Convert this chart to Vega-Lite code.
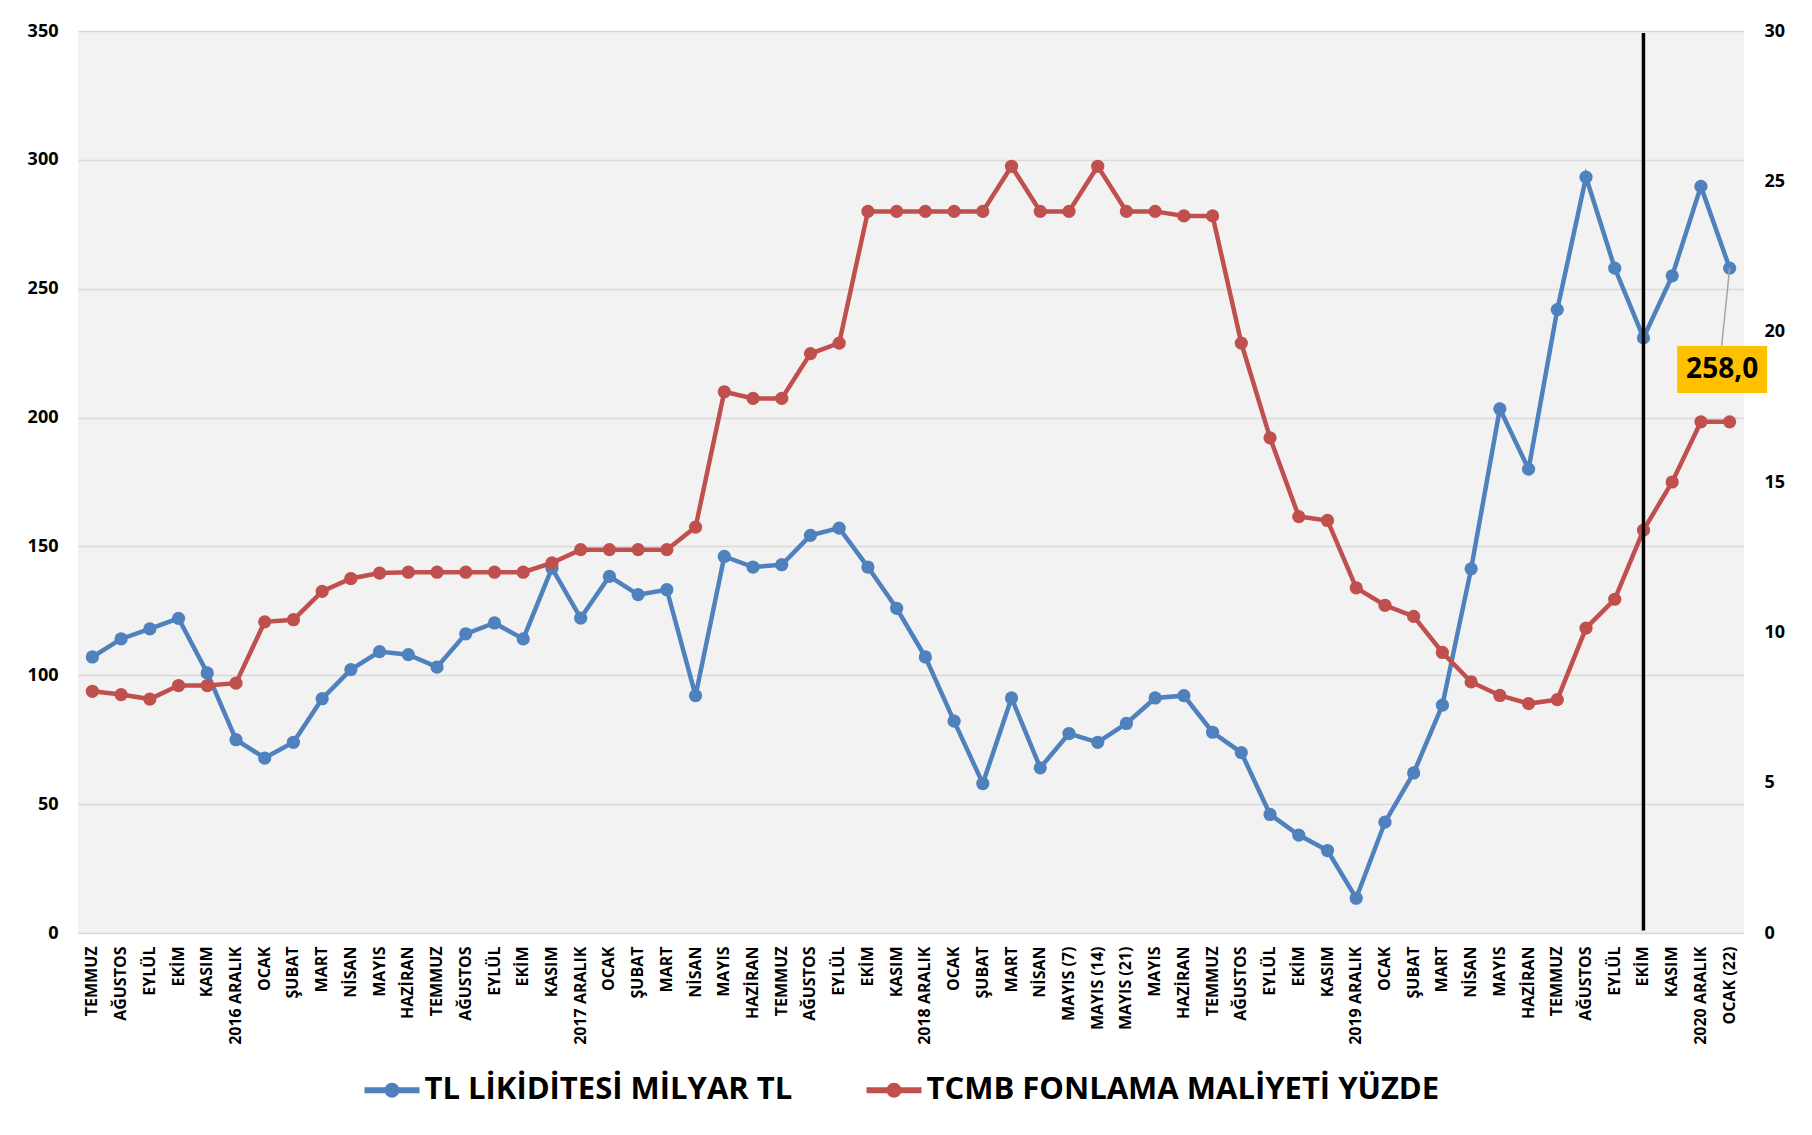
{
  "$schema": "https://vega.github.io/schema/vega-lite/v6.json",
  "width": 1666,
  "height": 902,
  "autosize": {"type": "none"},
  "padding": {"left": 78, "top": 31, "right": 68, "bottom": 202},
  "background": "white",
  "data": {"values": [
    {"key": "01|TEMMUZ", "tl": 107.1, "tcmb": 8.04},
    {"key": "02|AĞUSTOS", "tl": 114.1, "tcmb": 7.93},
    {"key": "03|EYLÜL", "tl": 118.0, "tcmb": 7.78},
    {"key": "04|EKİM", "tl": 122.1, "tcmb": 8.23},
    {"key": "05|KASIM", "tl": 100.9, "tcmb": 8.23},
    {"key": "06|2016 ARALIK", "tl": 75.0, "tcmb": 8.31},
    {"key": "07|OCAK", "tl": 67.9, "tcmb": 10.35},
    {"key": "08|ŞUBAT", "tl": 74.0, "tcmb": 10.42},
    {"key": "09|MART", "tl": 90.9, "tcmb": 11.36},
    {"key": "10|NİSAN", "tl": 102.2, "tcmb": 11.79},
    {"key": "11|MAYIS", "tl": 109.2, "tcmb": 11.97},
    {"key": "12|HAZİRAN", "tl": 108.0, "tcmb": 12.0},
    {"key": "13|TEMMUZ", "tl": 103.2, "tcmb": 12.0},
    {"key": "14|AĞUSTOS", "tl": 116.1, "tcmb": 12.0},
    {"key": "15|EYLÜL", "tl": 120.3, "tcmb": 12.0},
    {"key": "16|EKİM", "tl": 114.1, "tcmb": 12.0},
    {"key": "17|KASIM", "tl": 141.6, "tcmb": 12.31},
    {"key": "18|2017 ARALIK", "tl": 122.2, "tcmb": 12.75},
    {"key": "19|OCAK", "tl": 138.4, "tcmb": 12.75},
    {"key": "20|ŞUBAT", "tl": 131.3, "tcmb": 12.75},
    {"key": "21|MART", "tl": 133.2, "tcmb": 12.75},
    {"key": "22|NİSAN", "tl": 92.1, "tcmb": 13.5},
    {"key": "23|MAYIS", "tl": 146.1, "tcmb": 18.0},
    {"key": "24|HAZİRAN", "tl": 142.0, "tcmb": 17.78},
    {"key": "25|TEMMUZ", "tl": 142.9, "tcmb": 17.78},
    {"key": "26|AĞUSTOS", "tl": 154.3, "tcmb": 19.27},
    {"key": "27|EYLÜL", "tl": 157.1, "tcmb": 19.62},
    {"key": "28|EKİM", "tl": 142.0, "tcmb": 24.0},
    {"key": "29|KASIM", "tl": 126.0, "tcmb": 24.0},
    {"key": "30|2018 ARALIK", "tl": 107.1, "tcmb": 24.0},
    {"key": "31|OCAK", "tl": 82.2, "tcmb": 24.0},
    {"key": "32|ŞUBAT", "tl": 58.0, "tcmb": 24.0},
    {"key": "33|MART", "tl": 91.2, "tcmb": 25.5},
    {"key": "34|NİSAN", "tl": 64.1, "tcmb": 24.0},
    {"key": "35|MAYIS (7)", "tl": 77.4, "tcmb": 24.0},
    {"key": "36|MAYIS (14)", "tl": 74.0, "tcmb": 25.5},
    {"key": "37|MAYIS (21)", "tl": 81.3, "tcmb": 24.0},
    {"key": "38|MAYIS", "tl": 91.2, "tcmb": 24.0},
    {"key": "39|HAZİRAN", "tl": 92.1, "tcmb": 23.85},
    {"key": "40|TEMMUZ", "tl": 77.9, "tcmb": 23.85},
    {"key": "41|AĞUSTOS", "tl": 70.0, "tcmb": 19.62},
    {"key": "42|EYLÜL", "tl": 46.0, "tcmb": 16.47},
    {"key": "43|EKİM", "tl": 38.0, "tcmb": 13.85},
    {"key": "44|KASIM", "tl": 32.0, "tcmb": 13.72},
    {"key": "45|2019 ARALIK", "tl": 13.5, "tcmb": 11.48},
    {"key": "46|OCAK", "tl": 43.0, "tcmb": 10.9},
    {"key": "47|ŞUBAT", "tl": 62.1, "tcmb": 10.53},
    {"key": "48|MART", "tl": 88.4, "tcmb": 9.33},
    {"key": "49|NİSAN", "tl": 141.3, "tcmb": 8.35},
    {"key": "50|MAYIS", "tl": 203.4, "tcmb": 7.9},
    {"key": "51|HAZİRAN", "tl": 180.0, "tcmb": 7.63},
    {"key": "52|TEMMUZ", "tl": 241.9, "tcmb": 7.76},
    {"key": "53|AĞUSTOS", "tl": 293.3, "tcmb": 10.14},
    {"key": "54|EYLÜL", "tl": 258.0, "tcmb": 11.1},
    {"key": "55|EKİM", "tl": 230.9, "tcmb": 13.4},
    {"key": "56|KASIM", "tl": 255.0, "tcmb": 15.0},
    {"key": "57|2020 ARALIK", "tl": 289.7, "tcmb": 17.0},
    {"key": "58|OCAK (22)", "tl": 258.0, "tcmb": 17.0}
  ]},
  "config": {
    "view": {"fill": "#F2F2F2", "stroke": null},
    "font": "Open Sans",
    "axis": {"labelFont": "Open Sans", "labelFontWeight": "bold", "labelColor": "#000000", "ticks": false, "domain": false, "title": null}
  },
  "encoding": {
    "x": {
      "field": "key",
      "type": "ordinal",
      "scale": {"type": "band", "paddingInner": 0, "paddingOuter": 0},
      "axis": {
        "title": null,
        "labelAngle": -90,
        "labelExpr": "split(datum.label, '|')[1]",
        "labelFontSize": 16,
        "labelPadding": 13,
        "labelOverlap": false,
        "labelLimit": 0,
        "grid": false,
        "ticks": false,
        "domain": false
      }
    }
  },
  "layer": [
    {
      "encoding": {
        "y": {
          "field": "tl",
          "type": "quantitative",
          "scale": {"domain": [0, 350], "nice": false},
          "axis": {
            "orient": "left",
            "values": [0, 50, 100, 150, 200, 250, 300, 350],
            "grid": true,
            "gridColor": "#D9D9D9",
            "gridWidth": 1.5,
            "labelFontSize": 18,
            "labelPadding": 20
          }
        }
      },
      "layer": [
        {
          "mark": {"type": "line", "strokeWidth": 4.5},
          "encoding": {
            "color": {
              "datum": "TL LİKİDİTESİ MİLYAR TL",
              "type": "nominal",
              "scale": {"domain": ["TL LİKİDİTESİ MİLYAR TL", "TCMB FONLAMA MALİYETİ YÜZDE"], "range": ["#4F81BD", "#C0504D"]},
              "legend": {
                "orient": "none",
                "legendX": 286.5,
                "legendY": 1031.5,
                "direction": "horizontal",
                "title": null,
                "symbolType": "M-1,-0.11L1,-0.11L1,0.11L-1,0.11Z M-0.27,0A0.27,0.27 0 1,1 0.27,0A0.27,0.27 0 1,1 -0.27,0Z",
                "symbolSize": 3025,
                "symbolStrokeWidth": 0,
                "labelFontSize": 31,
                "labelFont": "Open Sans",
                "labelFontWeight": "bold",
                "labelColor": "#000000",
                "labelOffset": 5,
                "labelLimit": 0,
                "columnPadding": 74,
                "padding": 0,
                "encode": {"symbols": {"update": {"fill": {"scale": "color", "field": "value"}, "fillOpacity": {"value": 1}, "stroke": {"value": "transparent"}}}}
              }
            }
          }
        },
        {
          "mark": {"type": "point", "filled": true, "size": 175, "opacity": 1},
          "encoding": {"color": {"datum": "TL LİKİDİTESİ MİLYAR TL", "type": "nominal"}}
        }
      ]
    },
    {
      "encoding": {
        "y": {
          "field": "tcmb",
          "type": "quantitative",
          "scale": {"domain": [0, 30], "nice": false},
          "axis": {
            "orient": "right",
            "values": [0, 5, 10, 15, 20, 25, 30],
            "grid": false,
            "labelFontSize": 18,
            "labelPadding": 20
          }
        }
      },
      "layer": [
        {
          "mark": {"type": "line", "strokeWidth": 4.5},
          "encoding": {"color": {"datum": "TCMB FONLAMA MALİYETİ YÜZDE", "type": "nominal"}}
        },
        {
          "mark": {"type": "point", "filled": true, "size": 175, "opacity": 1},
          "encoding": {"color": {"datum": "TCMB FONLAMA MALİYETİ YÜZDE", "type": "nominal"}}
        }
      ]
    },
    {
      "data": {"values": [{"note": "258,0"}]},
      "layer": [
        {
          "mark": {"type": "rule", "color": "#000000", "strokeWidth": 3.5},
          "encoding": {
            "x": {"datum": "55|EKİM"},
            "y": {"datum": 349.2, "type": "quantitative", "scale": {"domain": [0, 350], "nice": false}, "axis": null},
            "y2": {"datum": 1}
          }
        },
        {
          "mark": {"type": "rule", "color": "#A6A6A6", "strokeWidth": 1.5, "x2Offset": -8},
          "encoding": {
            "x": {"datum": "58|OCAK (22)"},
            "x2": {"datum": "58|OCAK (22)"},
            "y": {"datum": 258, "type": "quantitative"},
            "y2": {"datum": 227.8}
          }
        },
        {
          "mark": {"type": "bar", "color": "#FFC000", "width": 90, "xOffset": -7.5},
          "encoding": {
            "x": {"datum": "58|OCAK (22)"},
            "y": {"datum": 209.5, "type": "quantitative"},
            "y2": {"datum": 227.8}
          }
        },
        {
          "mark": {"type": "text", "font": "Open Sans", "fontWeight": "bold", "fontSize": 28, "color": "#000000", "xOffset": -7.5, "baseline": "middle", "align": "center"},
          "encoding": {
            "x": {"datum": "58|OCAK (22)"},
            "y": {"datum": 218.6, "type": "quantitative"},
            "text": {"field": "note", "type": "nominal"}
          }
        }
      ]
    }
  ],
  "resolve": {"scale": {"y": "independent"}}
}
